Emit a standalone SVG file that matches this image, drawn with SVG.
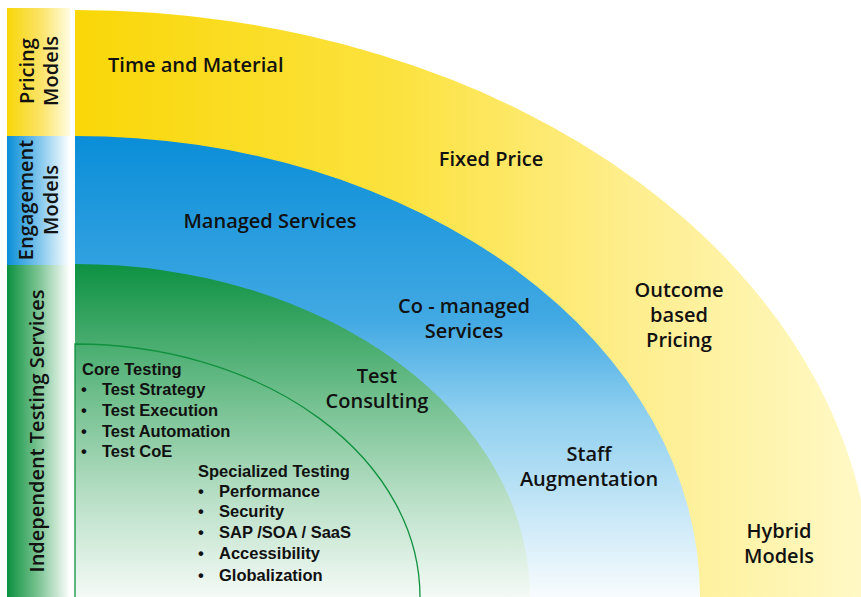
<svg xmlns="http://www.w3.org/2000/svg" width="861" height="597" viewBox="0 0 861 597">
<defs>
<linearGradient id="barY" x1="0" y1="0" x2="1" y2="0"><stop offset="0" stop-color="#F8D608"/><stop offset="0.55" stop-color="#FBE46A"/><stop offset="1" stop-color="#FFFCE2"/></linearGradient>
<linearGradient id="barB" x1="0" y1="0" x2="1" y2="0"><stop offset="0" stop-color="#0A8ED8"/><stop offset="0.5" stop-color="#7DC5EC"/><stop offset="1" stop-color="#FFFFFF"/></linearGradient>
<linearGradient id="barG" x1="0" y1="0" x2="1" y2="0"><stop offset="0" stop-color="#0C913F"/><stop offset="0.5" stop-color="#7CC493"/><stop offset="1" stop-color="#FFFFFF"/></linearGradient>
<linearGradient id="arcY" gradientUnits="userSpaceOnUse" x1="75" y1="0" x2="872" y2="0"><stop offset="0" stop-color="#F9D708"/><stop offset="0.4" stop-color="#FCE23E"/><stop offset="0.7" stop-color="#FEEE8E"/><stop offset="1" stop-color="#FFF9C8"/></linearGradient>
<linearGradient id="arcB" gradientUnits="userSpaceOnUse" x1="0" y1="136" x2="0" y2="597"><stop offset="0" stop-color="#0A8ED8"/><stop offset="0.4" stop-color="#42A9E3"/><stop offset="0.6" stop-color="#8ECFEF"/><stop offset="1" stop-color="#F8FCFE"/></linearGradient>
<linearGradient id="arcG" gradientUnits="userSpaceOnUse" x1="0" y1="264" x2="0" y2="597"><stop offset="0" stop-color="#0D9142"/><stop offset="0.4" stop-color="#70BF8D"/><stop offset="0.7" stop-color="#B8DFC6"/><stop offset="1" stop-color="#F4FAF6"/></linearGradient>
<style>
text{font-family:"Open Sans","Noto Sans","DejaVu Sans",sans-serif;font-weight:600;fill:#111111}
.big{font-size:20px}
.lst{font-family:"Liberation Sans","Open Sans",sans-serif;font-weight:700;font-size:16.5px}
.c{text-anchor:middle}
</style>
</defs>
<g id="arcs">
<path id="arc-pricing" d="M75,597 L75,10 A797,587 0 0 1 872,597 Z" fill="url(#arcY)"/>
<path id="arc-engagement" d="M75,597 L75,136 A625,461 0 0 1 700,597 Z" fill="url(#arcB)"/>
<path id="arc-testing" d="M75,597 L75,264 A455,333 0 0 1 530,597 Z" fill="url(#arcG)"/>
<path id="arc-inner" d="M75,597 L75,344 A345,253 0 0 1 420,597" fill="none" stroke="#10913F" stroke-width="1.3"/>
</g>
<g id="bar-pricing">
<rect x="7" y="8" width="63" height="128" fill="url(#barY)"/>
<text class="big c" transform="translate(34,71) rotate(-90)">Pricing</text>
<text class="big c" transform="translate(58,71) rotate(-90)">Models</text>
</g>
<g id="bar-engagement">
<rect x="7" y="136" width="63" height="129" fill="url(#barB)"/>
<text class="big c" transform="translate(33,200) rotate(-90)">Engagement</text>
<text class="big c" transform="translate(58,200) rotate(-90)">Models</text>
</g>
<g id="bar-testing">
<rect x="7" y="265" width="63" height="332" fill="url(#barG)"/>
<text class="big c" transform="translate(44,431) rotate(-90)">Independent Testing Services</text>
</g>
<g id="pricing-labels">
<text class="big" x="108" y="72">Time and Material</text>
<text class="big c" x="491" y="166">Fixed Price</text>
<text class="big c" x="679" y="297">Outcome<tspan x="679" dy="25">based</tspan><tspan x="679" dy="25">Pricing</tspan></text>
<text class="big c" x="779" y="538">Hybrid<tspan x="779" dy="25">Models</tspan></text>
</g>
<g id="engagement-labels">
<text class="big c" x="270" y="228">Managed Services</text>
<text class="big c" x="464" y="313">Co - managed<tspan x="464" dy="25">Services</tspan></text>
<text class="big c" x="589" y="461">Staff<tspan x="589" dy="25">Augmentation</tspan></text>
</g>
<g id="testing-labels">
<text class="big c" x="377" y="383">Test<tspan x="377" dy="25">Consulting</tspan></text>
</g>
<g id="core-testing">
<text class="lst" x="82" y="375">Core Testing<tspan x="81" y="395">•</tspan><tspan x="102" y="395">Test Strategy</tspan><tspan x="81" y="416">•</tspan><tspan x="102" y="416">Test Execution</tspan><tspan x="81" y="437">•</tspan><tspan x="102" y="437">Test Automation</tspan><tspan x="81" y="457">•</tspan><tspan x="102" y="457">Test CoE</tspan></text>
</g>
<g id="specialized-testing">
<text class="lst" x="198" y="477">Specialized Testing<tspan x="198" y="497">•</tspan><tspan x="219" y="497">Performance</tspan><tspan x="198" y="517">•</tspan><tspan x="219" y="517">Security</tspan><tspan x="198" y="538">•</tspan><tspan x="219" y="538">SAP /SOA / SaaS</tspan><tspan x="198" y="559">•</tspan><tspan x="219" y="559">Accessibility</tspan><tspan x="198" y="581">•</tspan><tspan x="219" y="581">Globalization</tspan></text>
</g>
</svg>
